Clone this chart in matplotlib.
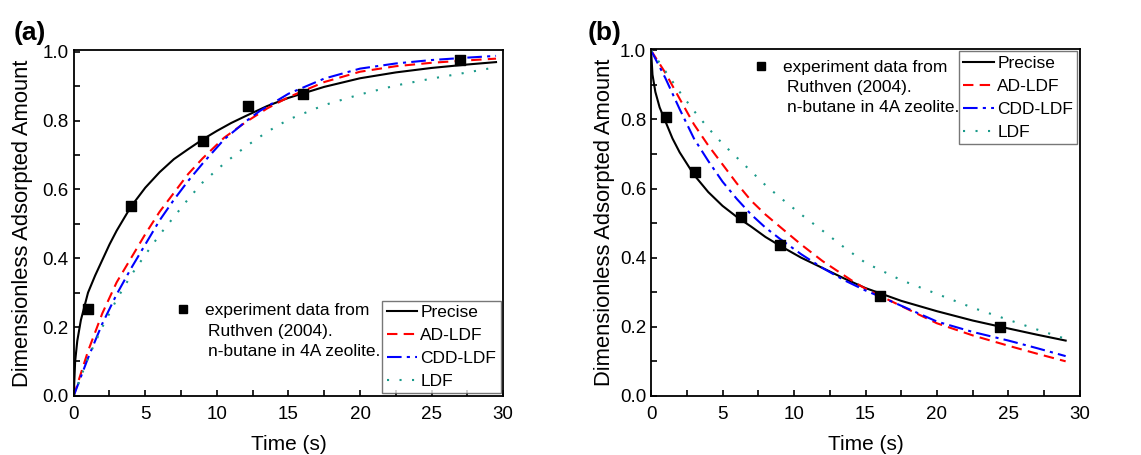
import matplotlib
matplotlib.use("Agg")
import numpy as np
from matplotlib import pyplot as plt
from matplotlib.ticker import MultipleLocator
from matplotlib.lines import Line2D

plt.rcParams['font.family'] = ['Liberation Sans', 'DejaVu Sans']

# ---- panel (a): adsorption ----
a_exp_t = [1.0, 4.0, 9.0, 12.2, 16.0, 27.0]
a_exp_y = [0.252, 0.552, 0.741, 0.842, 0.878, 0.976]

a_prec_t = [0, 0.1, 0.25, 0.5, 1, 1.5, 2, 2.5, 3, 4, 5, 6, 7, 8, 9, 10, 11, 12, 13.5, 15, 17.5, 20, 22.5, 25, 27.5, 29.5]
a_prec_y = [0, 0.10, 0.16, 0.22, 0.30, 0.35, 0.395, 0.44, 0.48, 0.55, 0.605, 0.65, 0.688, 0.717, 0.745, 0.77, 0.793, 0.813, 0.842, 0.866, 0.898, 0.923, 0.94, 0.953, 0.963, 0.97]

a_ad_t = [0, 1, 2, 3, 4, 5, 6, 7, 8, 9, 10.5, 12, 13.5, 15, 17.5, 20, 22.5, 25, 27.5, 29.5]
a_ad_y = [0, 0.13, 0.24, 0.33, 0.40, 0.47, 0.535, 0.59, 0.645, 0.69, 0.75, 0.795, 0.835, 0.868, 0.912, 0.942, 0.958, 0.968, 0.975, 0.98]

a_cdd_t = [0, 1, 2, 3, 4, 5, 6, 7, 8, 9, 10.5, 12, 13, 15, 17.5, 20, 22.5, 25, 27.5, 29.5]
a_cdd_y = [0, 0.11, 0.21, 0.295, 0.37, 0.44, 0.51, 0.57, 0.625, 0.675, 0.745, 0.797, 0.828, 0.878, 0.922, 0.951, 0.966, 0.976, 0.983, 0.988]

a_ldf_t = [0, 1, 2, 3, 4, 5, 6, 7, 8, 9, 10.5, 12, 13.5, 15, 17.5, 20, 22.5, 25, 27.5, 29.5]
a_ldf_y = [0, 0.11, 0.20, 0.28, 0.35, 0.41, 0.468, 0.52, 0.572, 0.62, 0.675, 0.724, 0.767, 0.803, 0.845, 0.876, 0.902, 0.922, 0.94, 0.955]

# ---- panel (b): desorption ----
b_exp_t = [1.03, 3.1, 6.3, 9.0, 16.0, 24.4]
b_exp_y = [0.808, 0.648, 0.517, 0.437, 0.290, 0.199]

b_prec_t = [0, 0.1, 0.3, 0.6, 1, 1.5, 2, 3, 4, 5, 6, 7, 8, 9, 10.5, 12, 13.5, 15, 17.5, 20, 22.5, 25, 27, 29]
b_prec_y = [1.0, 0.93, 0.88, 0.835, 0.795, 0.745, 0.705, 0.64, 0.59, 0.55, 0.518, 0.49, 0.46, 0.435, 0.40, 0.37, 0.34, 0.312, 0.275, 0.245, 0.218, 0.195, 0.177, 0.16]

b_ad_t = [0, 1, 2, 3, 4, 5, 6, 7, 8, 9, 10.5, 12, 14, 15, 17, 20, 22.5, 25, 27, 29]
b_ad_y = [1.0, 0.935, 0.86, 0.786, 0.725, 0.67, 0.615, 0.565, 0.525, 0.49, 0.438, 0.39, 0.335, 0.31, 0.27, 0.21, 0.175, 0.145, 0.122, 0.10]

b_cdd_t = [0, 1, 2, 3, 4, 5, 6, 7, 8, 9, 10.5, 12, 13.5, 15, 17, 20, 22.5, 25, 27, 29]
b_cdd_y = [1.0, 0.92, 0.83, 0.745, 0.68, 0.62, 0.57, 0.525, 0.487, 0.455, 0.41, 0.37, 0.335, 0.305, 0.27, 0.215, 0.185, 0.16, 0.138, 0.115]

b_ldf_t = [0, 1, 2, 3, 4, 5, 6, 7, 8, 9, 10.5, 12, 13.5, 15, 17.5, 20, 22.5, 25, 27, 29]
b_ldf_y = [1.0, 0.94, 0.88, 0.825, 0.775, 0.73, 0.69, 0.65, 0.61, 0.575, 0.525, 0.478, 0.43, 0.385, 0.335, 0.295, 0.255, 0.22, 0.192, 0.165]

exp_head = "experiment data from"
exp_tail = "Ruthven (2004).\nn-butane in 4A zeolite."
line_labels = ["Precise", "AD-LDF", "CDD-LDF", "LDF"]
styles = [dict(color='black', ls='-'),
          dict(color='red', ls=(0, (5, 3))),
          dict(color='blue', ls=(0, (7, 2.5, 1.5, 2.5))),
          dict(color='#1a9a8a', ls=(0, (1, 5)))]


def panel(ax, exp_t, exp_y, curves, tag, tag_xy, ylab_x, leg_loc, exp_anchor, tail_xy):
    for (t, y), st, lab in zip(curves, styles, line_labels):
        ax.plot(t, y, lw=1.5, label=lab, **st)
    ax.scatter(exp_t, exp_y, marker='s', s=45, color='black', zorder=4)
    ax.set_xlim(0, 30)
    ax.set_ylim(0, 1.005)
    ax.xaxis.set_major_locator(MultipleLocator(5))
    ax.xaxis.set_minor_locator(MultipleLocator(2.5))
    ax.yaxis.set_major_locator(MultipleLocator(0.2))
    ax.yaxis.set_minor_locator(MultipleLocator(0.1))
    ax.yaxis.set_major_formatter(plt.FormatStrFormatter('%.1f'))
    ax.tick_params(which='both', direction='in', length=4, width=1.2, labelsize=13.5)
    ax.tick_params(axis='x', pad=7)
    for sp in ax.spines.values():
        sp.set_linewidth(1.3)
    ax.set_xlabel("Time (s)", fontsize=15)
    ax.set_ylabel("Dimensionless Adsorpted Amount", fontsize=15.8)
    ax.xaxis.set_label_coords(0.5, -0.113)
    ax.yaxis.set_label_coords(ylab_x, 0.5)

    leg = ax.legend(loc=leg_loc, fontsize=12.5, frameon=True, fancybox=False,
                    edgecolor='#555555', handlelength=1.75, handletextpad=0.2,
                    labelspacing=0.45, borderpad=0.25, borderaxespad=0.15)
    leg.get_frame().set_linewidth(1.0)
    ax.add_artist(leg)
    h = Line2D([], [], marker='s', color='black', ls='none', markersize=6)
    ax.legend([h], [exp_head], loc='center left', bbox_to_anchor=exp_anchor,
              fontsize=12.5, frameon=False, handlelength=0.8, handletextpad=0.85,
              borderpad=0, borderaxespad=0)
    ax.text(tail_xy[0], tail_xy[1], exp_tail, transform=ax.transAxes, fontsize=12.5,
            ha='left', va='center', linespacing=1.4)
    ax.text(tag_xy[0], tag_xy[1], tag, transform=ax.transAxes, fontsize=19,
            fontweight='bold', ha='left', va='center')


fig = plt.figure(figsize=(11.41, 4.55), dpi=100)
ax1 = fig.add_axes([0.0646, 0.130, 0.3764, 0.760])
ax2 = fig.add_axes([0.5706, 0.130, 0.3759, 0.763])

panel(ax1, a_exp_t, a_exp_y,
      [(a_prec_t, a_prec_y), (a_ad_t, a_ad_y), (a_cdd_t, a_cdd_y), (a_ldf_t, a_ldf_y)],
      "(a)", (-0.141, 1.05), -0.095, 'lower right', (0.238, 0.248), (0.313, 0.158))
panel(ax2, b_exp_t, b_exp_y,
      [(b_prec_t, b_prec_y), (b_ad_t, b_ad_y), (b_cdd_t, b_cdd_y), (b_ldf_t, b_ldf_y)],
      "(b)", (-0.147, 1.045), -0.084, 'upper right', (0.240, 0.947), (0.316, 0.86))

fig.savefig("out.png", dpi=100)
